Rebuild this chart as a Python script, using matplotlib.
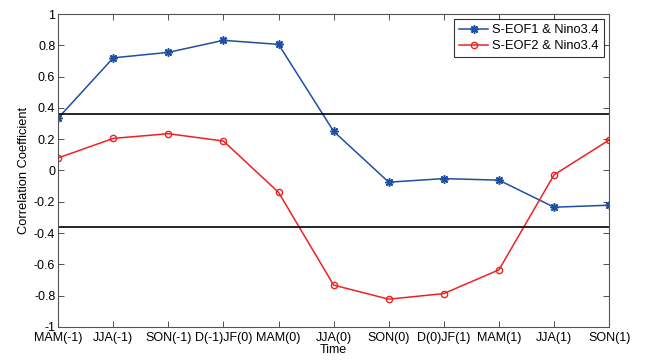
import matplotlib.pyplot as plt
import numpy as np

plt.rcParams['font.family'] = ['Liberation Sans', 'DejaVu Sans']

seasons = ['MAM(-1)', 'JJA(-1)', 'SON(-1)', 'D(-1)JF(0)', 'MAM(0)', 'JJA(0)',
           'SON(0)', 'D(0)JF(1)', 'MAM(1)', 'JJA(1)', 'SON(1)']
eof1 = [0.335, 0.72, 0.755, 0.832, 0.806, 0.25, -0.075, -0.052, -0.062, -0.235, -0.222]
eof2 = [0.08, 0.205, 0.235, 0.188, -0.14, -0.733, -0.823, -0.787, -0.635, -0.028, 0.195]
sig_level = 0.36

x = np.arange(1, len(seasons) + 1)

fig = plt.figure(figsize=(6.46, 3.6), dpi=100)
ax = fig.add_axes([0.09, 0.092, 0.853, 0.869])

ax.plot(x, eof1, color='#1f4fa3', marker=(8, 2, 0), markersize=6, mew=1.1,
        lw=1.1, label='S-EOF1 & Nino3.4')
ax.plot(x, eof2, color='#ee2222', marker='o', markersize=4.5, mfc='none',
        lw=1.1, label='S-EOF2 & Nino3.4')
ax.axhline(sig_level, color='black', lw=1.2)
ax.axhline(-sig_level, color='black', lw=1.2)

ax.set_xlim(1, len(seasons))
ax.set_ylim(-1, 1)
ax.set_xticks(x)
ax.set_xticklabels(seasons)
ax.set_yticks(np.arange(-1, 1.01, 0.2))
ax.set_yticklabels(['-1', '-0.8', '-0.6', '-0.4', '-0.2', '0', '0.2', '0.4',
                    '0.6', '0.8', '1'])
ax.tick_params(direction='in', top=True, right=True, labelsize=9,
               length=4, width=0.6, pad=2, color='#333333')
ax.tick_params(axis='x', pad=4)
for s in ax.spines.values():
    s.set_color('#555555')
    s.set_linewidth(0.8)

ax.set_xlabel('Time', fontsize=9, labelpad=0)
ax.set_ylabel('Correlation Coefficient', fontsize=9.3, labelpad=3)

leg = ax.legend(loc='upper right', fontsize=9.3, frameon=True, fancybox=False,
                edgecolor='black', borderaxespad=0.4, handlelength=2.3,
                borderpad=0.4, labelspacing=0.3, handletextpad=0.3)
leg.get_frame().set_linewidth(0.8)

fig.savefig('out.png', dpi=100)
